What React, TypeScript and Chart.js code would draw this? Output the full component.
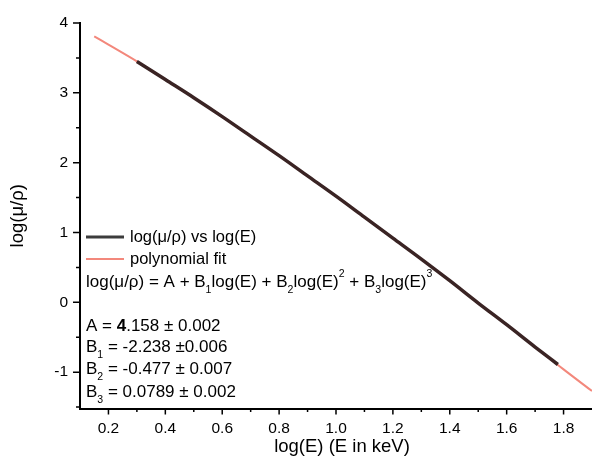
import React, { useEffect, useRef } from "react";
import { Chart, registerables } from "chart.js";
Chart.register(...registerables);

// Measured data: log(E) vs log(mu/rho)
const logE = [0.3, 0.4, 0.5, 0.6, 0.7, 0.8, 0.9, 1.0, 1.1, 1.2, 1.3, 1.4, 1.5, 1.6, 1.7, 1.78];
const logMuRho = [3.45, 3.19, 2.93, 2.66, 2.38, 2.1, 1.81, 1.52, 1.22, 0.92, 0.62, 0.31, -0.01, -0.32, -0.64, -0.89];

// Polynomial fit curve
const fitLogE = [0.15, 0.2, 0.3, 0.4, 0.5, 0.6, 0.7, 0.8, 0.9, 1.0, 1.1, 1.2, 1.3, 1.4, 1.5, 1.6, 1.7, 1.8, 1.9];
const fitLogMuRho = [3.81, 3.69, 3.45, 3.19, 2.93, 2.66, 2.38, 2.1, 1.81, 1.52, 1.22, 0.92, 0.62, 0.31, -0.01, -0.32, -0.64, -0.96, -1.27];

// Axis ticks
const xMajorTicks = [0.2, 0.4, 0.6, 0.8, 1.0, 1.2, 1.4, 1.6, 1.8];
const xMinorTicks = [0.3, 0.5, 0.7, 0.9, 1.1, 1.3, 1.5, 1.7];
const yMajorTicks = [-1, 0, 1, 2, 3, 4];
const yMinorTicks = [-1.5, -0.5, 0.5, 1.5, 2.5, 3.5];
const xTickLabels = ["0.2", "0.4", "0.6", "0.8", "1.0", "1.2", "1.4", "1.6", "1.8"];
const yTickLabels = ["-1", "0", "1", "2", "3", "4"];

const xTitle = "log(E) (E in keV)";
const yTitle = "log(\u03bc/\u03c1)";
const seriesNames = ["log(\u03bc/\u03c1) vs log(E)", "polynomial fit"];
const fitParams = [
  { name: "A", sub: "", value: "4.158 \u00b1 0.002" },
  { name: "B", sub: "1", value: "-2.238 \u00b10.006" },
  { name: "B", sub: "2", value: "-0.477 \u00b1 0.007" },
  { name: "B", sub: "3", value: "0.0789 \u00b1 0.002" },
];

const FONT = '"Liberation Sans", Arial, sans-serif';
const DATA_COLOR = "#3a2424";
const DATA_LEGEND_COLOR = "#3c3c3c";
const FIT_COLOR = "#f3887c";

type Part = [string, string];

function rich(ctx: CanvasRenderingContext2D, x: number, y: number, parts: Part[], size: number) {
  let cx = x;
  for (const [t, k] of parts) {
    let fs = size;
    let dy = 0;
    let weight = "";
    if (k === "sub") {
      fs = size * 0.62;
      dy = size * 0.47;
    } else if (k === "sup") {
      fs = size * 0.62;
      dy = -size * 0.45;
    } else if (k === "b") {
      weight = "bold ";
    }
    ctx.font = `${weight}${fs}px ${FONT}`;
    ctx.fillText(t, cx, y + dy);
    cx += ctx.measureText(t).width;
  }
}

const decorPlugin = {
  id: "decor",
  afterDraw(chart: any) {
    const { ctx, chartArea, scales } = chart;
    const xs = scales.x;
    const ys = scales.y;
    const L = chartArea.left;
    const B = chartArea.bottom;
    ctx.save();
    // tick marks
    ctx.strokeStyle = "#000";
    ctx.lineWidth = 1.5;
    ctx.beginPath();
    xMajorTicks.forEach((v) => {
      const p = xs.getPixelForValue(v);
      ctx.moveTo(p, B);
      ctx.lineTo(p, B + 6);
    });
    xMinorTicks.forEach((v) => {
      const p = xs.getPixelForValue(v);
      ctx.moveTo(p, B);
      ctx.lineTo(p, B + 3.5);
    });
    yMajorTicks.forEach((v) => {
      const p = ys.getPixelForValue(v);
      ctx.moveTo(L, p);
      ctx.lineTo(L - 7, p);
    });
    yMinorTicks.forEach((v) => {
      const p = ys.getPixelForValue(v);
      ctx.moveTo(L, p);
      ctx.lineTo(L - 4, p);
    });
    ctx.stroke();

    // tick labels
    ctx.fillStyle = "#000";
    ctx.font = `15.5px ${FONT}`;
    ctx.textAlign = "center";
    ctx.textBaseline = "middle";
    xMajorTicks.forEach((v, i) => {
      ctx.fillText(xTickLabels[i], xs.getPixelForValue(v), B + 20);
    });
    ctx.textAlign = "right";
    yMajorTicks.forEach((v, i) => {
      ctx.fillText(yTickLabels[i], L - 12, ys.getPixelForValue(v));
    });

    // axis titles
    ctx.font = `18.5px ${FONT}`;
    ctx.textAlign = "center";
    ctx.fillText(xTitle, 342, B + 38);
    ctx.save();
    ctx.translate(18, (chartArea.top + B) / 2);
    ctx.rotate(-Math.PI / 2);
    ctx.fillText(yTitle, 0, 0);
    ctx.restore();

    // legend
    const lx = L + 6;
    ctx.lineCap = "butt";
    ctx.strokeStyle = DATA_LEGEND_COLOR;
    ctx.lineWidth = 3;
    ctx.beginPath();
    ctx.moveTo(lx, 237);
    ctx.lineTo(lx + 38, 237);
    ctx.stroke();
    ctx.strokeStyle = FIT_COLOR;
    ctx.lineWidth = 2;
    ctx.beginPath();
    ctx.moveTo(lx, 259);
    ctx.lineTo(lx + 38, 259);
    ctx.stroke();
    ctx.textAlign = "left";
    ctx.font = `16.5px ${FONT}`;
    ctx.fillText(seriesNames[0], lx + 44, 237);
    ctx.fillText(seriesNames[1], lx + 44, 259);

    // formula
    rich(
      ctx,
      lx,
      282,
      [
        ["log(\u03bc/\u03c1) = A + B", "n"],
        ["1", "sub"],
        ["log(E) + B", "n"],
        ["2", "sub"],
        ["log(E)", "n"],
        ["2", "sup"],
        [" + B", "n"],
        ["3", "sub"],
        ["log(E)", "n"],
        ["3", "sup"],
      ],
      17
    );

    const rows = [326, 347, 369, 392];
    fitParams.forEach((p, i) => {
      const parts: Part[] = [[p.name, "n"]];
      if (p.sub) parts.push([p.sub, "sub"]);
      if (i === 0) {
        parts.push([" = ", "n"]);
        parts.push([p.value.slice(0, 1), "b"]);
        parts.push([p.value.slice(1), "n"]);
      } else {
        parts.push([" = " + p.value, "n"]);
      }
      rich(ctx, lx, rows[i], parts, 17);
    });
    ctx.restore();
  },
};

export default function App() {
  const ref = useRef<HTMLCanvasElement | null>(null);
  useEffect(() => {
    document.body.style.margin = "0";
    const canvas = ref.current;
    if (!canvas) return;
    const chart = new Chart(canvas, {
      type: "line",
      data: {
        datasets: [
          {
            label: seriesNames[1],
            data: fitLogE.map((x, i) => ({ x, y: fitLogMuRho[i] })),
            borderColor: FIT_COLOR,
            borderWidth: 2,
            pointRadius: 0,
            cubicInterpolationMode: "monotone",
            fill: false,
            order: 2,
          },
          {
            label: seriesNames[0],
            data: logE.map((x, i) => ({ x, y: logMuRho[i] })),
            borderColor: DATA_COLOR,
            borderWidth: 3.5,
            pointRadius: 0,
            cubicInterpolationMode: "monotone",
            fill: false,
            order: 1,
          },
        ],
      },
      options: {
        animation: false,
        responsive: false,
        devicePixelRatio: 1,
        layout: { padding: { left: 0, top: 23, right: 0, bottom: 0 } },
        plugins: {
          legend: { display: false },
          tooltip: { enabled: false },
        },
        scales: {
          x: {
            type: "linear",
            min: 0.1,
            max: 1.9,
            afterFit: (s: any) => {
              s.height = 54.5;
            },
            ticks: { display: false },
            grid: { display: true, drawOnChartArea: false, drawTicks: false },
            border: { display: true, color: "#000", width: 2 },
          },
          y: {
            type: "linear",
            min: -1.52,
            max: 4,
            afterFit: (s: any) => {
              s.width = 80;
            },
            ticks: { display: false },
            grid: { display: true, drawOnChartArea: false, drawTicks: false },
            border: { display: true, color: "#000", width: 2 },
          },
        },
      },
      plugins: [decorPlugin],
    });
    return () => chart.destroy();
  }, []);
  return (
    <div style={{ position: "fixed", left: 0, top: 0, width: 592, height: 463, background: "#fff" }}>
      <canvas ref={ref} width={592} height={463} style={{ display: "block" }} />
    </div>
  );
}
